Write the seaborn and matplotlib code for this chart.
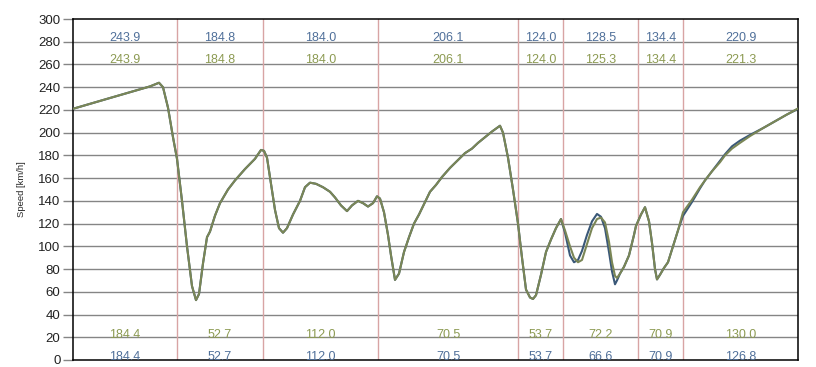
import matplotlib
matplotlib.use("Agg")
import matplotlib.pyplot as plt
import seaborn as sns
import pandas as pd

# distance along the lap (m) and speed of the two laps (km/h)
dist = [0, 102, 222, 342, 462, 516, 540, 570, 600, 624, 654, 684, 714, 738, 756,
        780, 804, 822, 852, 882, 930, 972, 1032, 1092, 1128, 1146, 1164, 1188,
        1212, 1236, 1260, 1284, 1320, 1362, 1392, 1422, 1458, 1500, 1542, 1572,
        1608, 1644, 1674, 1710, 1740, 1770, 1800, 1824, 1842, 1866, 1890, 1908,
        1932, 1956, 1986, 2016, 2046, 2076, 2106, 2142, 2178, 2214, 2262, 2310,
        2352, 2394, 2430, 2472, 2514, 2562, 2580, 2610, 2640, 2670, 2694, 2718,
        2742, 2760, 2778, 2808, 2838, 2868, 2898, 2928,
        2952, 2982, 3006, 3030, 3054, 3084, 3114, 3144, 3168, 3192, 3216, 3234,
        3252, 3264, 3282, 3306, 3336, 3366, 3378, 3408, 3432, 3456, 3474, 3492,
        3504, 3522, 3546, 3570, 3600, 3630, 3660, 3714, 3762, 3792, 3834, 3882,
        3912, 3954, 4002, 4062, 4140, 4212, 4284, 4350]

common = [221, 225.4, 230.5, 235.6, 240.7, 243.9, 240, 222, 196, 177, 140, 100,
          65, 52.7, 58, 85, 108, 113, 127, 138, 150, 158, 168, 177, 184.8, 184,
          178, 155, 132, 116, 112, 116, 128, 140, 152, 156, 155, 152, 148, 143,
          136, 131, 136, 140, 138, 135, 138, 144, 142, 130, 110, 92, 70.5, 76,
          95, 108, 120, 128, 137, 148, 154, 161, 169, 176, 182, 186, 191, 196,
          201, 206.1, 200, 178, 150, 120, 90, 62, 55, 53.7, 57, 75, 95, 106,
          116, 124]

speed_blue = common + [
    112, 92, 86, 88, 96, 110, 122, 128.5, 126, 116, 95, 78, 66.6, 70, 76, 82,
    92, 110, 118, 128, 134.4, 122, 103, 80, 70.9, 75, 81, 86, 100, 114, 126.8,
    139, 151, 158, 166, 175, 181, 188, 193, 198, 204, 210, 216, 220.9]

speed_green = common + [
    114, 100, 90, 86, 88, 102, 116, 124, 125.3, 121, 104, 86, 74, 72.2, 76, 82,
    92, 110, 118, 128, 134.4, 122, 103, 80, 70.9, 75, 81, 86, 100, 114, 130.0,
    141, 152, 158, 166, 174, 180, 186, 191, 197, 204, 210, 216, 221.3]

sector_edges = [624, 1140, 1830, 2670, 2940, 3390, 3660]
max_blue = [243.9, 184.8, 184.0, 206.1, 124.0, 128.5, 134.4, 220.9]
max_green = [243.9, 184.8, 184.0, 206.1, 124.0, 125.3, 134.4, 221.3]
min_green = [184.4, 52.7, 112.0, 70.5, 53.7, 72.2, 70.9, 130.0]
min_blue = [184.4, 52.7, 112.0, 70.5, 53.7, 66.6, 70.9, 126.8]

blue = "#3a5878"
green = "#7a8656"
blue_txt = "#50709a"
green_txt = "#8c9a52"

df = pd.concat([
    pd.DataFrame({"distance": dist, "speed": speed_blue, "lap": "Lap A"}),
    pd.DataFrame({"distance": dist, "speed": speed_green, "lap": "Lap B"}),
])

sns.set_theme(style="white")
plt.rcParams["font.family"] = ["Liberation Sans", "DejaVu Sans"]

fig = plt.figure(figsize=(8.16, 3.67), dpi=100)
ax = fig.add_axes([73 / 816, 7 / 367, 725 / 816, 341 / 367])

# horizontal grid
for v in range(20, 300, 20):
    ax.axhline(v, color="#858585", lw=1.0, zorder=1)

# sector boundaries
for e in sector_edges:
    ax.axvline(e, color="#d8a4a4", lw=1.0, zorder=1)

sns.lineplot(data=df, x="distance", y="speed", hue="lap",
             palette={"Lap A": blue, "Lap B": green}, hue_order=["Lap A", "Lap B"],
             linewidth=1.5, legend=False, ax=ax, zorder=3)

# sector max / min labels
edges = [dist[0]] + sector_edges + [dist[-1]]
for i in range(len(max_blue)):
    xc = (edges[i] + edges[i + 1]) / 2
    ax.text(xc, 283.5, f"{max_blue[i]:.1f}", color=blue_txt, ha="center", va="center", fontsize=9)
    ax.text(xc, 263.5, f"{max_green[i]:.1f}", color=green_txt, ha="center", va="center", fontsize=9)
    ax.text(xc, 22, f"{min_green[i]:.1f}", color=green_txt, ha="center", va="center", fontsize=9)
    ax.text(xc, 2.5, f"{min_blue[i]:.1f}", color=blue_txt, ha="center", va="center", fontsize=9)

ax.set_xlim(dist[0], dist[-1])
ax.set_ylim(0, 300)
ax.set_yticks(range(0, 301, 20))
ax.set_xticks([])
ax.set_xlabel("")
ax.set_ylabel("Speed [km/h]", fontsize=6.8, labelpad=9)
ax.tick_params(axis="y", direction="out", length=7, width=1, color="#858585",
               labelsize=9.5, labelcolor="#222222", pad=2, left=True)
for s in ax.spines.values():
    s.set_color("black")
    s.set_linewidth(1.1)

fig.savefig("out.png", dpi=100)
